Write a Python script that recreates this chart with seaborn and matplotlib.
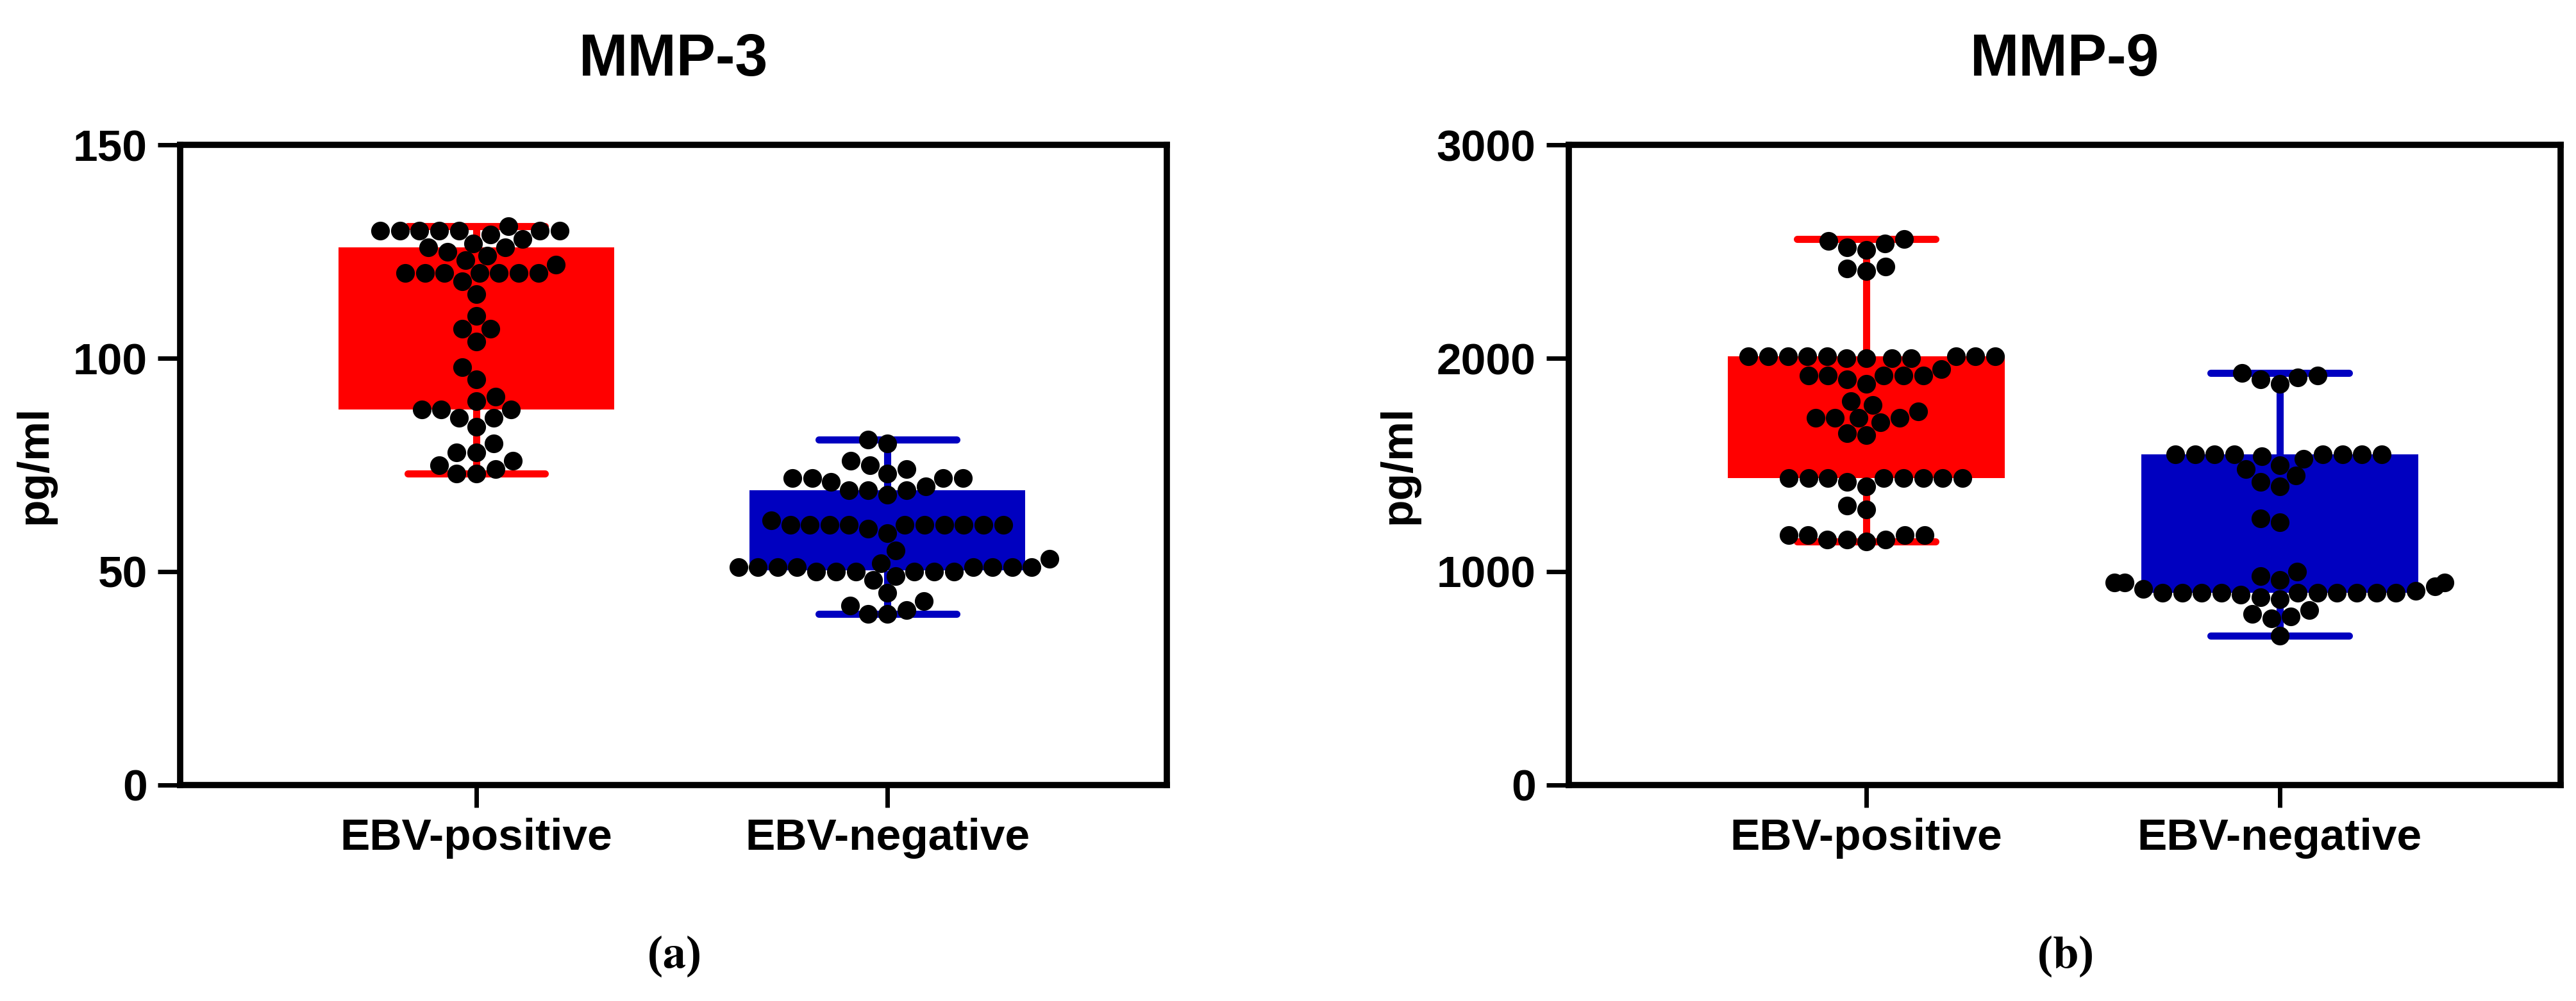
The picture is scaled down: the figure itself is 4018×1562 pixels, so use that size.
import numpy as np
import pandas as pd
import matplotlib
matplotlib.use("Agg")
import matplotlib.pyplot as plt
import seaborn as sns

groups = ["EBV-positive", "EBV-negative"]
colors = {"EBV-positive": "#ff0000", "EBV-negative": "#0000c0"}

# --- valores ---
mmp3_pos = [131, 130, 130, 130, 130, 130, 130, 130, 129, 128, 127, 126, 126, 125, 124,
            123, 122, 120, 120, 120, 120, 120, 120, 120, 118, 115, 110, 107, 107, 104,
            98, 95, 91, 90, 88, 88, 88, 86, 86, 84, 80, 78, 78, 76, 75, 74, 73, 73]
mmp3_neg = [81, 80, 76, 75, 74, 73, 72, 72, 72, 72, 71, 70, 69, 69, 69, 68, 62,
            61, 61, 61, 61, 61, 61, 61, 61, 61, 61, 60, 59, 55, 53, 52,
            51, 51, 51, 51, 51, 51, 51, 51, 50, 50, 50, 50, 50, 50, 49, 48,
            45, 43, 42, 41, 40, 40]
mmp9_pos = [2560, 2550, 2540, 2520, 2510, 2430, 2420, 2410,
            2010, 2010, 2010, 2010, 2010, 2010, 2010, 2010, 2000, 2000, 2000, 2000,
            1950, 1920, 1920, 1920, 1920, 1920, 1900, 1880, 1800, 1780, 1750,
            1720, 1720, 1720, 1720, 1700, 1650, 1640,
            1440, 1440, 1440, 1440, 1440, 1440, 1440, 1440, 1420, 1400, 1310, 1290,
            1170, 1170, 1170, 1170, 1150, 1150, 1150, 1140]
mmp9_neg = [1930, 1920, 1910, 1900, 1880,
            1550, 1550, 1550, 1550, 1550, 1550, 1550, 1550, 1540, 1530, 1500, 1480,
            1450, 1420, 1400, 1250, 1230,
            1000, 980, 960, 950, 950, 950, 930, 920, 910,
            900, 900, 900, 900, 900, 900, 900, 900, 900, 900,
            890, 880, 870, 820, 800, 790, 780, 700]

panels = [
    ("MMP-3", mmp3_pos, mmp3_neg, 150, [0, 50, 100, 150], "(a)"),
    ("MMP-9", mmp9_pos, mmp9_neg, 3000, [0, 1000, 2000, 3000], "(b)"),
]

sns.set_style("white")
plt.rcParams['font.family'] = ['Liberation Sans', 'DejaVu Sans']
plt.rcParams['font.weight'] = 'bold'
plt.rcParams['mathtext.fontset'] = 'stix'
plt.rcParams['text.color'] = 'black'
plt.rcParams['axes.labelcolor'] = 'black'
plt.rcParams['xtick.color'] = 'black'
plt.rcParams['ytick.color'] = 'black'

fig = plt.figure(figsize=(40.18, 15.62), dpi=100)
axes_pos = [[0.070, 0.216, 0.383, 0.639], [0.609, 0.216, 0.385, 0.639]]

for (title, pos, neg, ymax, yticks, tag), rect in zip(panels, axes_pos):
    ax = fig.add_axes(rect)
    df = pd.DataFrame({
        "grupo": ["EBV-positive"] * len(pos) + ["EBV-negative"] * len(neg),
        "valor": pos + neg,
    })
    for g in groups:
        sub = df[df["grupo"] == g]
        sns.boxplot(data=sub, x="grupo", y="valor", order=groups, ax=ax,
                    whis=(0, 100), width=0.67, color=colors[g], saturation=1,
                    linecolor=colors[g], linewidth=8, showfliers=False,
                    boxprops=dict(linewidth=0),
                    medianprops=dict(linewidth=0))
    sns.swarmplot(data=df, x="grupo", y="valor", order=groups, ax=ax,
                  color="black", size=21, linewidth=0, warn_thresh=1)

    ax.set_xlim(-0.72, 1.68)
    ax.set_ylim(0, ymax)
    ax.set_yticks(yticks)
    ax.set_xlabel("")
    ax.set_ylabel("pg/ml", fontsize=50, fontweight="bold", labelpad=20)
    ax.tick_params(axis="both", labelsize=50, width=5, length=25, direction="out",
                   left=True, bottom=True, pad=12)
    for lbl in ax.get_xticklabels() + ax.get_yticklabels():
        lbl.set_fontweight("bold")
    for sp in ax.spines.values():
        sp.set_linewidth(7)
        sp.set_color("black")
    cx = rect[0] + rect[2] / 2
    fig.text(cx, 0.94, title, ha="center", va="center", fontsize=66, fontweight="bold")
    letter = tag[1]
    fig.text(cx, 0.045, r"($\mathbf{" + letter + r"}$)", ha="center", va="center",
             fontsize=52, family="Liberation Serif")

fig.savefig("out.png", dpi=100)
